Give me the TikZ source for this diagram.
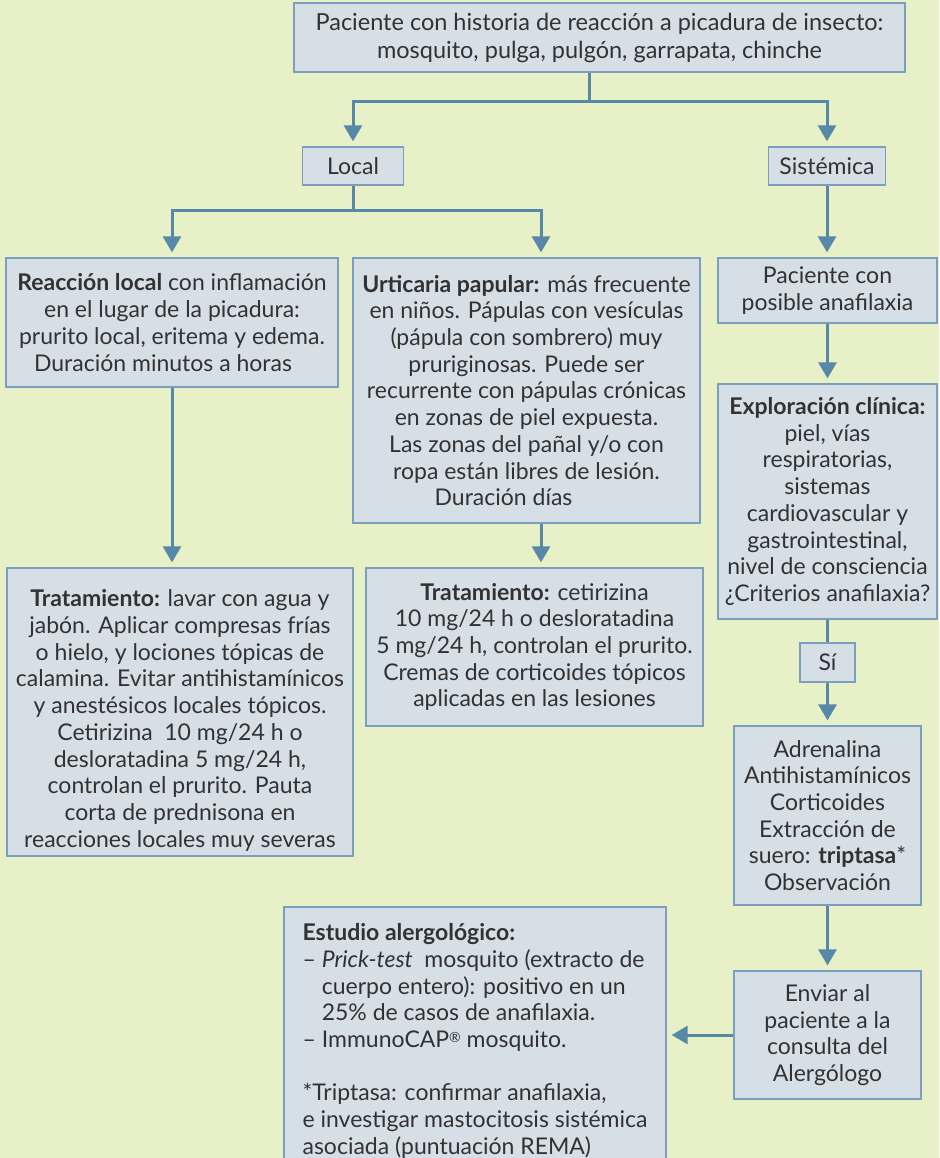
\documentclass[tikz,border=0pt]{standalone}
\usepackage{fontspec}
\setmainfont{Lato}
\usetikzlibrary{arrows.meta}

\definecolor{bg}{RGB}{231,240,198}
\definecolor{boxfill}{RGB}{214,223,230}
\definecolor{boxline}{RGB}{122,160,190}
\definecolor{link}{RGB}{88,136,168}
\definecolor{txt}{RGB}{50,50,50}

\tikzset{
  box/.style 2 args={draw=boxline, fill=boxfill, line width=1.3pt, inner sep=0pt,
    align=center, text=txt, minimum width=#1, minimum height=#2,
    font=\fontsize{23}{26.7}\selectfont},
  conn/.style={draw=link, line width=3pt},
  arr/.style={conn, -{Triangle[width=18pt,length=16pt]}, shorten >=5pt},
}

\begin{document}
\begin{tikzpicture}[x=1pt,y=-1pt]
\clip (0,0) rectangle (939,1158);
\fill[bg] (0,0) rectangle (939,1158);

% top level
\node[box={611pt}{69pt}, font=\fontsize{23.5}{28}\selectfont] (top) at (599.5,37.5)
  {Paciente con historia de reacción a picadura de insecto:\\ mosquito, pulga, pulgón, garrapata, chinche};
\node[box={101pt}{38pt}] (local) at (353,166) {Local};
\node[box={117pt}{38pt}] (sist) at (827,166) {Sistémica};

% local branch
\node[box={332pt}{129pt}] (reac) at (172,322.5)
  {\textbf{Reacción local} con inflamación\\ en el lugar de la picadura:\\
   prurito local, eritema y edema.\\ Duración minutos a horas\hspace*{18pt}\mbox{}};
\node[box={347pt}{265pt}] (urt) at (526.5,390.5)
  {\textbf{Urticaria papular:} más frecuente\\ en niños. Pápulas con vesículas\\
   (pápula con sombrero) muy\\ pruriginosas. Puede ser\\
   recurrente con pápulas crónicas\\ en zonas de piel expuesta.\\
   Las zonas del pañal y/o con\\ ropa están libres de lesión.\\
   Duración días\hspace*{46pt}\mbox{}};
% the strut on the first line lowers the text block a little
\node[box={346pt}{288pt}] (trat1) at (180,712)
  {\rule{0pt}{34pt}\textbf{Tratamiento:} lavar con agua y\\ jabón. Aplicar compresas frías\\
   o hielo, y lociones tópicas de\\ calamina. Evitar antihistamínicos\\
   y anestésicos locales tópicos.\\ Cetirizina\enspace 10 mg/24 h o\\
   desloratadina 5 mg/24 h,\\ controlan el prurito. Pauta\\
   corta de prednisona en\\ reacciones locales muy severas};
\node[box={337pt}{158pt}] (trat2) at (534.5,647)
  {\textbf{Tratamiento:} cetirizina\\ 10 mg/24 h o desloratadina\\
   5 mg/24 h, controlan el prurito.\\ Cremas de corticoides tópicos\\
   aplicadas en las lesiones};

% systemic branch
\node[box={219pt}{65pt}] (pac) at (827.5,290.5) {Paciente con\\ posible anafilaxia};
\node[box={219pt}{235pt}] (expl) at (827.5,501.5)
  {\textbf{Exploración clínica:}\\ piel, vías\\ respiratorias,\\ sistemas\\
   cardiovascular y\\ gastrointestinal,\\ nivel de consciencia\\ ¿Criterios anafilaxia?};
\node[box={55pt}{39pt}] (si) at (827.5,662.5) {Sí};
\node[box={187pt}{179pt}] (adr) at (827.5,815.5)
  {Adrenalina\\ Antihistamínicos\\ Corticoides\\ Extracción de\\
   suero: \textbf{triptasa}*\\ Observación};
\node[box={187pt}{128pt}] (env) at (827.5,1035)
  {Enviar al\\ paciente a la\\ consulta del\\ Alergólogo};
\node[box={382pt}{268pt}, align=left] (est) at (475,1041)
  {\textbf{Estudio alergológico:}\\
   – \textit{Prick-test}\enspace mosquito (extracto de\\
   \phantom{– }cuerpo entero): positivo en un\\
   \phantom{– }25\% de casos de anafilaxia.\\
   – ImmunoCAP{\fontsize{14}{14}\selectfont\raisebox{5pt}{®}} mosquito.\\
   \mbox{}\\
   *Triptasa: confirmar anafilaxia,\\
   e investigar mastocitosis sistémica\\
   asociada (puntuación REMA)};

% connectors
\coordinate (j1) at (589,102);
\coordinate (j2) at (353,211);
\draw[conn] (top.south -| j1) -- (j1);
\draw[arr] (j1) -| (local.north);
\draw[arr] (j1) -| (sist.north);
\draw[conn] (local.south) -- (j2);
\draw[arr] (j2) -| (reac.north);
\draw[arr] (j2) -| ([xshift=14.5pt]urt.north);
\draw[arr] (reac.south) -- (reac.south |- trat1.north);
\draw[arr] ([xshift=14.5pt]urt.south) -- ([xshift=14.5pt]urt.south |- trat2.north);
\draw[arr] (sist.south) -- (sist.south |- pac.north);
\draw[arr] (pac.south) -- (expl.north);
\draw[conn] (expl.south) -- (si.north);
\draw[arr] (si.south) -- (adr.north);
\draw[arr] (adr.south) -- (env.north);
\draw[arr] (env.west) -- (env.west -| est.east);
\end{tikzpicture}
\end{document}
